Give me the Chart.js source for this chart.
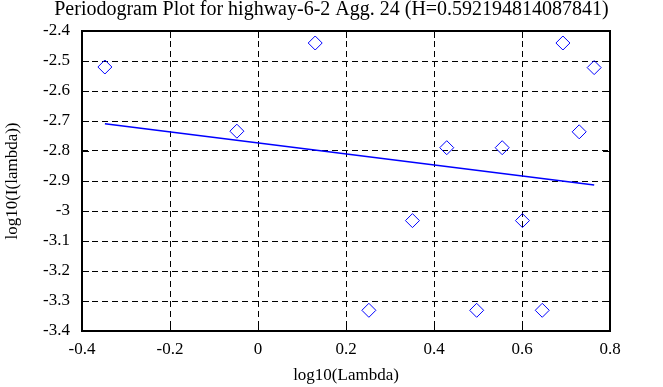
<!DOCTYPE html>
<html>
<head>
<meta charset="utf-8">
<script src="https://cdn.jsdelivr.net/npm/chart.js@4/dist/chart.umd.min.js"></script>
<style>
	html, body { margin: 0; padding: 0; background: #fff; }
	#wrap { width: 663px; height: 387px; }
</style>
</head>
<body>
<div id="wrap"><canvas id="myChart" width="663" height="387"></canvas></div>
<script>

// periodogram points (log10 frequency vs log10 intensity)
const logLambda = [-0.348, -0.048, 0.130, 0.252, 0.351, 0.429, 0.497, 0.555, 0.601, 0.646, 0.693, 0.730, 0.764];
const logI = [-2.520, -2.734, -2.440, -3.331, -3.032, -2.789, -3.331, -2.789, -3.032, -3.331, -2.440, -2.736, -2.522];

// fitted line, end points
const fitX = [-0.348, 0.764];
const fitY = [-2.709, -2.913];

const xTicks = [-0.4, -0.2, 0, 0.2, 0.4, 0.6, 0.8];
const yTicks = [-3.4, -3.3, -3.2, -3.1, -3, -2.9, -2.8, -2.7, -2.6, -2.5, -2.4];

const titleText = "Periodogram Plot for highway-6-2 Agg. 24 (H=0.592194814087841)";
const serif = "'Liberation Serif', 'DejaVu Serif', serif";

function toPoints(xs, ys){
	let pts = [];
	for(let i = 0; i < xs.length; i++){
		pts.push({x: xs[i], y: ys[i]});
	}
	return pts;
}

function fmt(v){
	return String(Number(v.toFixed(1)));
}

// frame + inward tick marks
const framePlugin = {
	id: "frame",
	afterDraw(chart){
		const ctx = chart.ctx;
		const a = chart.chartArea;
		const xs = chart.scales.x, ys = chart.scales.y;
		const len = 7;
		ctx.save();
		ctx.strokeStyle = "#000";
		ctx.setLineDash([]);
		ctx.lineWidth = 1;
		ctx.beginPath();
		for(let i = 0; i < xTicks.length; i++){
			let px = Math.round(xs.getPixelForValue(xTicks[i])) + 0.5;
			ctx.moveTo(px, a.top); ctx.lineTo(px, a.top + len);
			ctx.moveTo(px, a.bottom); ctx.lineTo(px, a.bottom - len);
		}
		for(let i = 0; i < yTicks.length; i++){
			let py = Math.round(ys.getPixelForValue(yTicks[i])) + 0.5;
			ctx.moveTo(a.left, py); ctx.lineTo(a.left + len, py);
			ctx.moveTo(a.right, py); ctx.lineTo(a.right - len, py);
		}
		ctx.stroke();
		ctx.lineWidth = 2;
		ctx.strokeRect(a.left, a.top, a.right - a.left, a.bottom - a.top);
		ctx.restore();
	}
};

const ctx = document.getElementById("myChart").getContext("2d");

new Chart(ctx, {
	type: "scatter",
	data: {
		datasets: [
			{
				label: "fit",
				data: toPoints(fitX, fitY),
				showLine: true,
				borderColor: "#0000ff",
				borderWidth: 1.5,
				pointRadius: 0,
				fill: false
			},
			{
				label: "periodogram",
				data: toPoints(logLambda, logI),
				pointStyle: "rectRot",
				pointRadius: 7,
				borderColor: "#0000ff",
				backgroundColor: "rgba(0,0,0,0)",
				borderWidth: 1
			}
		]
	},
	options: {
		responsive: false,
		animation: false,
		layout: { padding: 0 },
		plugins: {
			legend: { display: false },
			tooltip: { enabled: false },
			title: {
				display: true,
				text: titleText,
				color: "#000",
				font: { family: serif, size: 20, weight: "normal", lineHeight: 1 },
				padding: { top: 0, bottom: 11 }
			}
		},
		scales: {
			x: {
				type: "linear",
				min: -0.4,
				max: 0.8,
				afterBuildTicks(s){ s.ticks = xTicks.map(v => ({value: v})); },
				afterFit(s){ s.height = 56; },
				border: { display: false, dash: [6, 4] },
				grid: { color: "#000", lineWidth: 1, drawTicks: false },
				ticks: { color: "#000", padding: 8, maxRotation: 0, font: { family: serif, size: 17 }, callback: v => fmt(v) },
				title: { display: true, text: "log10(Lambda)", color: "#000", padding: { top: 0, bottom: 1 }, font: { family: serif, size: 17 } }
			},
			y: {
				type: "linear",
				min: -3.4,
				max: -2.4,
				afterBuildTicks(s){ s.ticks = yTicks.map(v => ({value: v})); },
				afterFit(s){ s.width = 82; },
				border: { display: false, dash: [6, 4] },
				grid: { color: "#000", lineWidth: 1, drawTicks: false },
				ticks: { color: "#000", padding: 12, font: { family: serif, size: 17 }, callback: v => fmt(v) },
				title: { display: true, text: "log10(I(lambda))", color: "#000", padding: { top: 2, bottom: 0 }, font: { family: serif, size: 17 } }
			},
			// empty right margin
			yRight: {
				type: "linear",
				position: "right",
				min: -3.4,
				max: -2.4,
				afterFit(s){ s.width = 53; },
				border: { display: false },
				grid: { display: false, drawTicks: false },
				ticks: { display: false }
			}
		}
	},
	plugins: [framePlugin]
});
</script>
</body>
</html>
